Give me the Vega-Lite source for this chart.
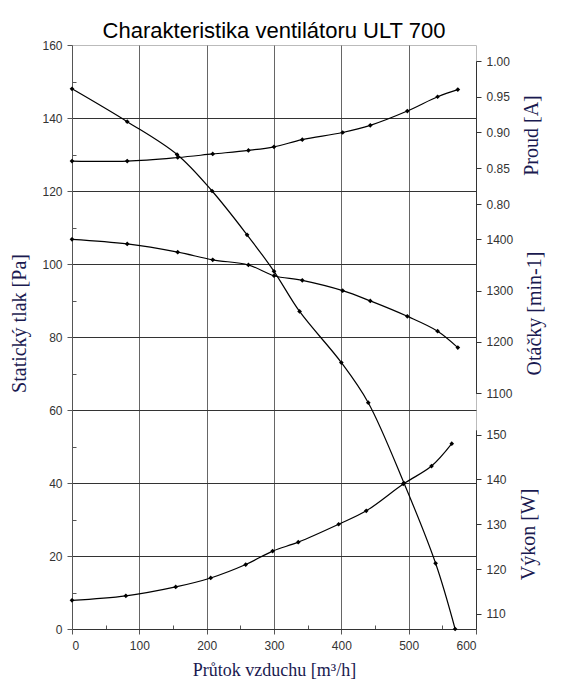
{
  "$schema": "https://vega.github.io/schema/vega-lite/v6.json",
  "autosize": "none",
  "width": 404,
  "height": 584,
  "padding": {"left": 72, "top": 45, "right": 101, "bottom": 62},
  "background": "white",
  "view": {"stroke": "#bbbbbb"},
  "title": {
    "text": "Charakteristika ventilátoru ULT 700",
    "font": "Liberation Sans",
    "fontSize": 22,
    "fontWeight": "normal",
    "color": "#000000",
    "anchor": "middle",
    "frame": "group",
    "offset": -4
  },
  "data": {
    "values": [
      {"series": "tlak", "q": 0, "v": 148},
      {"series": "tlak", "q": 82, "v": 139},
      {"series": "tlak", "q": 156, "v": 130},
      {"series": "tlak", "q": 208, "v": 120},
      {"series": "tlak", "q": 260, "v": 108},
      {"series": "tlak", "q": 300, "v": 98},
      {"series": "tlak", "q": 338, "v": 87},
      {"series": "tlak", "q": 400, "v": 73},
      {"series": "tlak", "q": 440, "v": 62},
      {"series": "tlak", "q": 493, "v": 40},
      {"series": "tlak", "q": 540, "v": 18},
      {"series": "tlak", "q": 569, "v": 0},
      {"series": "proud", "q": 0, "v": 0.86},
      {"series": "proud", "q": 82, "v": 0.86},
      {"series": "proud", "q": 157, "v": 0.865},
      {"series": "proud", "q": 209, "v": 0.87},
      {"series": "proud", "q": 262, "v": 0.875},
      {"series": "proud", "q": 300, "v": 0.88},
      {"series": "proud", "q": 342, "v": 0.89},
      {"series": "proud", "q": 402, "v": 0.9},
      {"series": "proud", "q": 443, "v": 0.91},
      {"series": "proud", "q": 498, "v": 0.93},
      {"series": "proud", "q": 543, "v": 0.95},
      {"series": "proud", "q": 573, "v": 0.96},
      {"series": "otacky", "q": 0, "v": 1400},
      {"series": "otacky", "q": 82, "v": 1391},
      {"series": "otacky", "q": 157, "v": 1375},
      {"series": "otacky", "q": 209, "v": 1360},
      {"series": "otacky", "q": 262, "v": 1350},
      {"series": "otacky", "q": 300, "v": 1329},
      {"series": "otacky", "q": 342, "v": 1320},
      {"series": "otacky", "q": 402, "v": 1300},
      {"series": "otacky", "q": 443, "v": 1280},
      {"series": "otacky", "q": 498, "v": 1250},
      {"series": "otacky", "q": 543, "v": 1221},
      {"series": "otacky", "q": 573, "v": 1189},
      {"series": "vykon", "q": 0, "v": 113},
      {"series": "vykon", "q": 80, "v": 114},
      {"series": "vykon", "q": 154, "v": 116},
      {"series": "vykon", "q": 206, "v": 118},
      {"series": "vykon", "q": 258, "v": 121},
      {"series": "vykon", "q": 298, "v": 124},
      {"series": "vykon", "q": 336, "v": 126},
      {"series": "vykon", "q": 396, "v": 130},
      {"series": "vykon", "q": 437, "v": 133},
      {"series": "vykon", "q": 492, "v": 139},
      {"series": "vykon", "q": 534, "v": 143},
      {"series": "vykon", "q": 564, "v": 148}
    ]
  },
  "encoding": {
    "x": {
      "field": "q",
      "type": "quantitative",
      "scale": {"domain": [0, 600], "nice": false},
      "axis": {
        "title": "Průtok vzduchu [m³/h]",
        "titleFont": "Liberation Serif",
        "titleFontSize": 18,
        "titleFontWeight": "normal",
        "titleColor": "#1a1a50",
        "titlePadding": 10,
        "values": [0, 50, 100, 150, 200, 250, 300, 350, 400, 450, 500, 550, 600],
        "labelExpr": "datum.value % 100 === 0 ? datum.label : ''",
        "labelFont": "Liberation Sans",
        "labelFontSize": 12,
        "labelColor": "#333333",
        "labelPadding": 6,
        "domainColor": "#333333",
        "tickColor": "#555555",
        "tickSize": {"condition": {"test": "datum.value % 100 === 0", "value": 5}, "value": -4},
        "grid": true,
        "gridColor": "#666666",
        "gridOpacity": {"condition": {"test": "datum.value % 100 === 0 && datum.value > 0 && datum.value < 600", "value": 1}, "value": 0}
      }
    }
  },
  "layer": [
    {
      "transform": [{"filter": "datum.series === 'tlak'"}],
      "mark": {"type": "line", "interpolate": "catmull-rom", "color": "#000000", "strokeWidth": 1.2,
        "point": {"shape": "diamond", "size": 22, "filled": true, "color": "#000000"}},
      "encoding": {
        "y": {
          "field": "v",
          "type": "quantitative",
          "scale": {"domain": [0, 160], "nice": false},
          "axis": {
            "orient": "left",
            "title": "Statický tlak [Pa]",
            "titleFont": "Liberation Serif",
            "titleFontSize": 20,
            "titleFontWeight": "normal",
            "titleColor": "#1a1a50",
            "titlePadding": 12,
            "titleY": 278,
            "values": [0, 10, 20, 30, 40, 50, 60, 70, 80, 90, 100, 110, 120, 130, 140, 150, 160],
            "labelExpr": "datum.value % 20 === 0 ? datum.label : ''",
            "labelFont": "Liberation Sans",
            "labelFontSize": 12,
            "labelColor": "#333333",
            "labelPadding": 5,
            "domainColor": "#555555",
            "tickColor": "#555555",
            "tickSize": {"condition": {"test": "datum.value % 20 === 0", "value": 5}, "value": -4},
            "grid": true,
            "gridColor": "#333333",
            "gridOpacity": {"condition": {"test": "datum.value % 20 === 0 && datum.value > 0 && datum.value < 160", "value": 1}, "value": 0}
          }
        }
      }
    },
    {
      "transform": [{"filter": "datum.series === 'proud'"}],
      "mark": {"type": "line", "interpolate": "catmull-rom", "color": "#000000", "strokeWidth": 1.2,
        "point": {"shape": "diamond", "size": 22, "filled": true, "color": "#000000"}},
      "encoding": {
        "y": {
          "field": "v",
          "type": "quantitative",
          "scale": {"domain": [0.75, 1.0], "range": [194.75, 16], "nice": false, "zero": false},
          "axis": {
            "orient": "right",
            "title": "Proud [A]",
            "titleFont": "Liberation Serif",
            "titleFontSize": 20,
            "titleFontWeight": "normal",
            "titleColor": "#1a1a50",
            "titleAngle": 270,
            "titleBaseline": "top",
            "titlePadding": 12,
            "titleY": 90,
            "values": [0.8, 0.85, 0.9, 0.95, 1.0],
            "format": ".2f",
            "labelFont": "Liberation Sans",
            "labelFontSize": 12,
            "labelColor": "#333333",
            "labelPadding": 5,
            "domainColor": "#333333",
            "tickColor": "#333333",
            "tickSize": 5,
            "grid": false
          }
        }
      }
    },
    {
      "transform": [{"filter": "datum.series === 'otacky'"}],
      "mark": {"type": "line", "interpolate": "catmull-rom", "color": "#000000", "strokeWidth": 1.2,
        "point": {"shape": "diamond", "size": 22, "filled": true, "color": "#000000"}},
      "encoding": {
        "y": {
          "field": "v",
          "type": "quantitative",
          "scale": {"domain": [1100, 1400], "range": [348.3, 194.3], "nice": false, "zero": false},
          "axis": {
            "orient": "right",
            "title": "Otáčky [min-1]",
            "titleFont": "Liberation Serif",
            "titleFontSize": 20,
            "titleFontWeight": "normal",
            "titleColor": "#1a1a50",
            "titleAngle": 270,
            "titleBaseline": "top",
            "titlePadding": 12,
            "titleY": 268,
            "values": [1100, 1200, 1300, 1400],
            "format": "d",
            "labelFont": "Liberation Sans",
            "labelFontSize": 12,
            "labelColor": "#333333",
            "labelPadding": 5,
            "domainColor": "#333333",
            "tickColor": "#333333",
            "tickSize": 5,
            "grid": false
          }
        }
      }
    },
    {
      "transform": [{"filter": "datum.series === 'vykon'"}],
      "mark": {"type": "line", "interpolate": "catmull-rom", "color": "#000000", "strokeWidth": 1.2,
        "point": {"shape": "diamond", "size": 22, "filled": true, "color": "#000000"}},
      "encoding": {
        "y": {
          "field": "v",
          "type": "quantitative",
          "scale": {"domain": [106.6, 151.1], "range": [584, 384.8], "nice": false, "zero": false},
          "axis": {
            "orient": "right",
            "title": "Výkon [W]",
            "titleFont": "Liberation Serif",
            "titleFontSize": 20,
            "titleFontWeight": "normal",
            "titleColor": "#1a1a50",
            "titleAngle": 270,
            "titleBaseline": "top",
            "titlePadding": 12,
            "titleY": 489,
            "values": [110, 120, 130, 140, 150],
            "format": "d",
            "labelFont": "Liberation Sans",
            "labelFontSize": 12,
            "labelColor": "#333333",
            "labelPadding": 5,
            "domainColor": "#333333",
            "tickColor": "#333333",
            "tickSize": 5,
            "grid": false
          }
        }
      }
    }
  ],
  "resolve": {"scale": {"y": "independent"}, "axis": {"y": "independent"}}
}
